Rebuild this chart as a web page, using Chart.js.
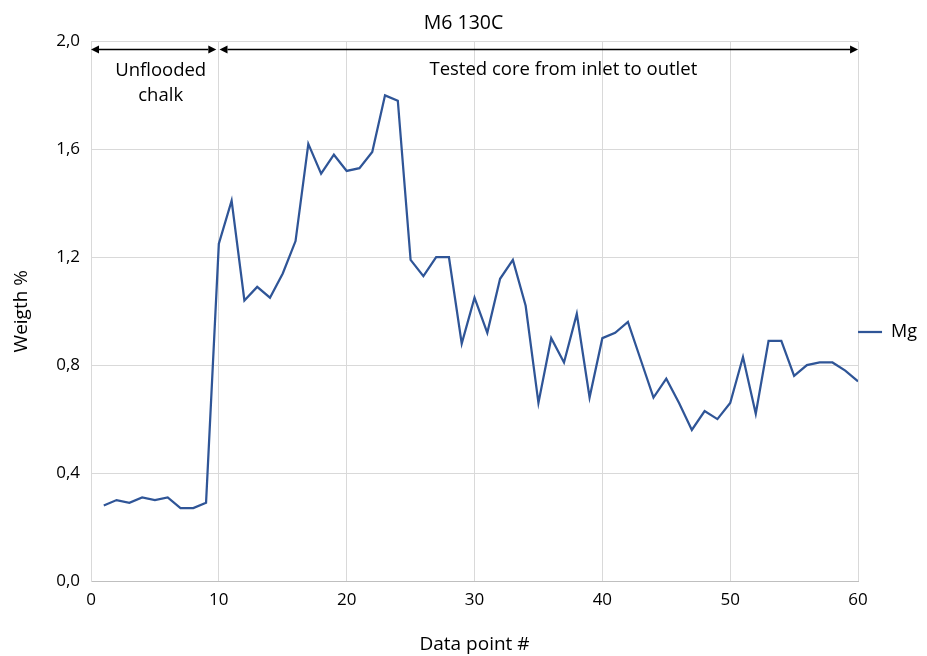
<!DOCTYPE html>
<html>
<head>
<meta charset="utf-8">
<script src="https://cdn.jsdelivr.net/npm/chart.js@4.4.0/dist/chart.umd.min.js"></script>
<style>
  html, body { margin: 0; padding: 0; background: #fff; }
  #wrap { width: 927px; height: 656px; }
</style>
</head>
<body>
<div id="wrap"><canvas id="chart" width="927" height="656"></canvas></div>
<script>
'use strict';
// data point numbers and Mg weight %
const dataPoints = [];
for (let i = 1; i <= 60; i++) dataPoints.push(i);
const mgValues = [
  0.28, 0.30, 0.29, 0.31, 0.30, 0.31, 0.27, 0.27, 0.29, 1.25,
  1.41, 1.04, 1.09, 1.05, 1.14, 1.26, 1.62, 1.51, 1.58, 1.52,
  1.53, 1.59, 1.80, 1.78, 1.19, 1.13, 1.20, 1.20, 0.88, 1.05,
  0.92, 1.12, 1.19, 1.02, 0.66, 0.90, 0.81, 0.99, 0.68, 0.90,
  0.92, 0.96, 0.82, 0.68, 0.75, 0.66, 0.56, 0.63, 0.60, 0.66,
  0.83, 0.62, 0.89, 0.89, 0.76, 0.80, 0.81, 0.81, 0.78, 0.74
];
const xTicks = [0, 10, 20, 30, 40, 50, 60];
const yTicks = [0, 0.4, 0.8, 1.2, 1.6, 2.0];

const FONT = '"Open Sans", "Liberation Sans", sans-serif';
const TEXT = '#000000';

// arrows + region labels above the line
const regionNotes = {
  id: 'regionNotes',
  afterDatasetsDraw(chart) {
    const { ctx, scales: { x, y } } = chart;
    const ay = y.getPixelForValue(1.97);
    function arrow(x1, x2) {
      const h = 8, w = 4;
      ctx.beginPath();
      ctx.moveTo(x1 + h, ay);
      ctx.lineTo(x2 - h, ay);
      ctx.stroke();
      ctx.beginPath();
      ctx.moveTo(x1, ay); ctx.lineTo(x1 + h, ay - w); ctx.lineTo(x1 + h, ay + w); ctx.closePath();
      ctx.fill();
      ctx.beginPath();
      ctx.moveTo(x2, ay); ctx.lineTo(x2 - h, ay - w); ctx.lineTo(x2 - h, ay + w); ctx.closePath();
      ctx.fill();
    }
    ctx.save();
    ctx.strokeStyle = '#000';
    ctx.fillStyle = '#000';
    ctx.lineWidth = 1.5;
    arrow(x.getPixelForValue(0), x.getPixelForValue(9.8));
    arrow(x.getPixelForValue(10.05), x.getPixelForValue(60));
    ctx.font = '18.5px ' + FONT;
    ctx.textAlign = 'center';
    ctx.textBaseline = 'middle';
    ctx.fillText('Unflooded', x.getPixelForValue(5.45), y.getPixelForValue(1.89));
    ctx.fillText('chalk', x.getPixelForValue(5.45), y.getPixelForValue(1.80));
    ctx.fillText('Tested core from inlet to outlet', x.getPixelForValue(36.95), y.getPixelForValue(1.896));
    ctx.restore();
  }
};

const chartConfig = {
  type: 'line',
  data: {
    labels: dataPoints,
    datasets: [{
      label: 'Mg',
      data: dataPoints.map((p, i) => ({ x: p, y: mgValues[i] })),
      borderColor: '#2F5597',
      backgroundColor: '#2F5597',
      borderWidth: 2.25,
      pointRadius: 0,
      tension: 0
    }]
  },
  options: {
    responsive: false,
    animation: false,
    layout: { padding: { left: 0, right: 0, top: 8, bottom: 0 } },
    plugins: {
      title: {
        display: true,
        text: 'M6 130C',
        color: TEXT,
        font: { family: FONT, size: 19.5, weight: 'normal' },
        padding: { top: 4, bottom: 6 }
      },
      legend: {
        position: 'right',
        labels: {
          color: TEXT,
          font: { family: FONT, size: 18 },
          usePointStyle: true,
          pointStyle: 'line',
          pointStyleWidth: 24,
          boxHeight: 2,
          padding: 0
        }
      },
      tooltip: { enabled: false }
    },
    scales: {
      x: {
        type: 'linear',
        min: 0,
        max: 60,
        afterBuildTicks: axis => { axis.ticks = xTicks.map(v => ({ value: v })); },
        grid: { color: '#d9d9d9', drawTicks: false },
        border: { color: '#bfbfbf' },
        ticks: { color: TEXT, font: { family: FONT, size: 17 }, padding: 9, maxRotation: 0 },
        title: {
          display: true,
          text: 'Data point #',
          color: TEXT,
          font: { family: FONT, size: 19 },
          padding: { top: 10, bottom: 0 }
        },
        afterFit: axis => { axis.height = 75; }
      },
      y: {
        min: 0,
        max: 2,
        afterBuildTicks: axis => { axis.ticks = yTicks.map(v => ({ value: v })); },
        grid: { color: '#d9d9d9', drawTicks: false },
        border: { color: '#d9d9d9' },
        ticks: {
          color: TEXT,
          font: { family: FONT, size: 17 },
          padding: 11,
          callback: v => v.toFixed(1).replace('.', ',')
        },
        title: {
          display: true,
          text: 'Weigth %',
          color: TEXT,
          font: { family: FONT, size: 19 },
          padding: { top: 10, bottom: 0 }
        },
        afterFit: axis => { axis.width = 91; }
      }
    }
  },
  plugins: [regionNotes]
};

const canvasElem = document.getElementById('chart');
const myChart = new Chart(canvasElem, chartConfig);
</script>
</body>
</html>
